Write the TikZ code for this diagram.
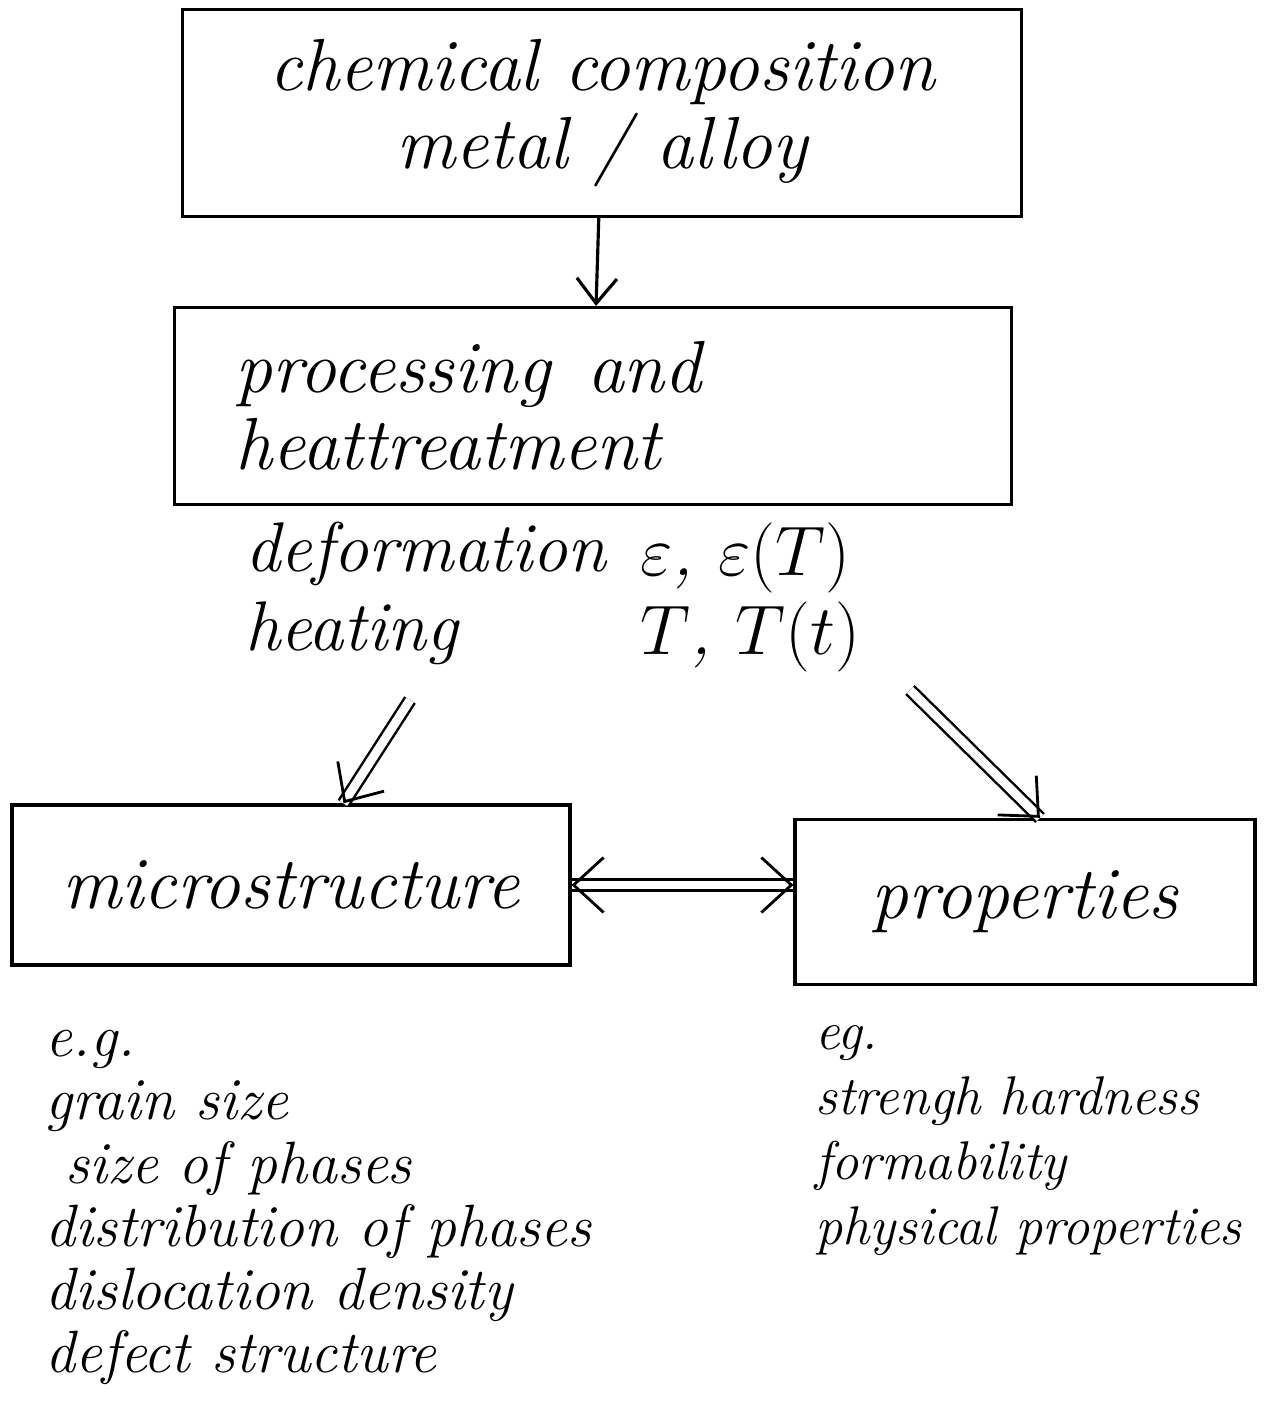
\RequirePackage{fix-cm}
\documentclass[tikz,border=0pt]{standalone}
\usepackage{fontspec}
\usetikzlibrary{arrows.meta, positioning, calc, decorations.markings}
\newcommand{\handbig}{\itshape\fontsize{42}{44}\selectfont}
\newcommand{\handmid}{\itshape\fontsize{40}{45}\selectfont}
\newcommand{\handlist}{\itshape\fontsize{34}{36}\selectfont}
\newcommand{\handsmall}{\itshape\fontsize{31}{37}\selectfont}
\tikzstyle{block} = [rectangle, draw=black, line width=1.8pt, inner sep=0pt, align=center, font=\handbig]
\tikzstyle{hand} = [inner sep=0pt, align=left, font=\handmid]
\tikzstyle{list} = [inner sep=0pt, align=left, font=\handlist]
\tikzstyle{arrow} = [-{Straight Barb[length=5mm, width=8mm]}, line width=1.8pt]
\tikzstyle{dblarrow} = [double, double distance=5pt, line width=1.4pt,
    decoration={markings, mark=at position 1 with {\arrow[line width=1.6pt]{Straight Barb[length=6mm, width=11mm]}}},
    postaction={decorate}]
\tikzstyle{dblboth} = [double, double distance=5pt, line width=1.4pt,
    decoration={markings,
      mark=at position 0 with {\arrowreversed[line width=1.6pt]{Straight Barb[length=6mm, width=11mm]}},
      mark=at position 1 with {\arrow[line width=1.6pt]{Straight Barb[length=6mm, width=11mm]}}},
    postaction={decorate}]

\begin{document}
\begin{tikzpicture}[x=0.02cm, y=-0.02cm]
\useasboundingbox (0,0) rectangle (1269,1401);

% Main boxes
\node (chem) [block, minimum width=16.78cm, minimum height=4.14cm] at (602,113) {chemical composition\\metal / alloy};
\node (proc) [block, minimum width=16.74cm, minimum height=3.94cm, text width=14.3cm, align=left] at (593,406) {processing\enspace and\\heattreatment};
\node (micro) [block, minimum width=11.16cm, minimum height=3.2cm] at (291,885) {microstructure};
\node (prop) [block, minimum width=9.2cm, minimum height=3.3cm] at (1025,902) {properties};

% Processing parameters
\node (deflabel) [hand, anchor=north west] at (245,522) {deformation\\heating};
\node (symlabel) [hand, anchor=north west] at (640,522) {$\varepsilon$, $\varepsilon(T)$\\$T$, $T(t)$};
\coordinate (defout) at (410,700);
\coordinate (heatout) at (910,690);

% Arrows
\draw [arrow] (chem) -- (proc);
\draw [dblarrow] (defout) -- (micro);
\draw [dblarrow] (heatout) -- ($(prop.north)+(15,0)$);
\draw [dblboth] (micro.east) -- (micro.east -| prop.west);

% Examples below the boxes
\node (microlist) [list, anchor=north west] at (45,1030) {e.g.\\grain size\\\hspace{0.4cm}size of phases\\distribution of phases\\dislocation density\\defect structure};
\node (proplist) [list, font=\handsmall, anchor=north west] at (815,1025) {eg.\\strengh hardness\\formability\\physical properties};

\end{tikzpicture}
\end{document}
